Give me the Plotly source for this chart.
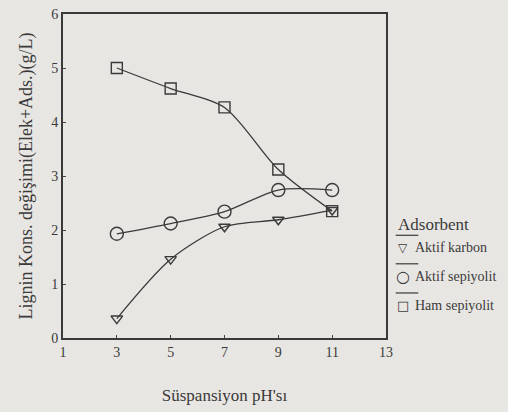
import plotly.graph_objects as go

ph = [3, 5, 7, 9, 11]
aktif_karbon = [0.36, 1.46, 2.06, 2.19, 2.37]
aktif_sepiyolit = [1.93, 2.12, 2.34, 2.74, 2.74]
ham_sepiyolit = [5.0, 4.62, 4.27, 3.12, 2.35]
x_ticks = [1, 3, 5, 7, 9, 11, 13]
y_ticks = [0, 1, 2, 3, 4, 5, 6]
legend_title = "Adsorbent"
series_names = ["Aktif karbon", "Aktif sepiyolit", "Ham sepiyolit"]
symbols = ["triangle-down-open", "circle-open", "square-open"]
glyphs = ["▽", "○", "□"]

ink = "#3a3a3a"
bg = "#e8e6e2"
font = "Liberation Serif, Times New Roman, serif"

fig = go.Figure()
for name, vals, sym, size in zip(series_names, [aktif_karbon, aktif_sepiyolit, ham_sepiyolit], symbols, [10, 13, 11]):
    fig.add_trace(go.Scatter(
        x=ph, y=vals, name=name, mode="lines+markers",
        line=dict(color=ink, width=1.3, shape="spline", smoothing=0.8),
        marker=dict(symbol=sym, size=size, color=ink, line=dict(width=1.4, color=ink)),
        showlegend=False,
    ))

fig.update_xaxes(range=[1, 13], tickvals=x_ticks, ticks="inside", ticklen=3,
                 showline=True, linecolor=ink, linewidth=1.8, mirror=True,
                 showgrid=False, zeroline=False,
                 tickfont=dict(family=font, size=14, color=ink),
                 title=dict(text="Süspansiyon pH'sı", font=dict(family=font, size=17, color=ink), standoff=30))
fig.update_yaxes(range=[0, 6], tickvals=y_ticks, ticks="inside", ticklen=3,
                 showline=True, linecolor=ink, linewidth=1.8, mirror=True,
                 showgrid=False, zeroline=False,
                 tickfont=dict(family=font, size=14, color=ink),
                 title=dict(text="Lignin Kons. değişimi(Elek+Ads.)(g/L)", font=dict(family=font, size=18, color=ink), standoff=14))

# legend built from annotations
fig.add_annotation(xref="paper", yref="paper", x=1.03, y=0.35, xanchor="left", yanchor="middle",
                   text=legend_title, showarrow=False, font=dict(family=font, size=17, color=ink))
leg_y = [0.278, 0.19, 0.10]
glyph_sizes = [12, 16, 13]
for yy, g, gs, name in zip(leg_y, glyphs, glyph_sizes, series_names):
    fig.add_shape(type="line", xref="paper", yref="paper", x0=1.03, x1=1.1, y0=yy + 0.039, y1=yy + 0.039,
                  line=dict(color=ink, width=1.2))
    fig.add_annotation(xref="paper", yref="paper", x=1.053, y=yy, xanchor="center", yanchor="middle",
                       text=g, showarrow=False, font=dict(family="DejaVu Sans", size=gs, color=ink))
    fig.add_annotation(xref="paper", yref="paper", x=1.083, y=yy, xanchor="left", yanchor="middle",
                       text=name, showarrow=False, font=dict(family=font, size=14, color=ink))

fig.update_layout(width=508, height=412, paper_bgcolor=bg, plot_bgcolor=bg,
                  margin=dict(l=63, r=122, t=7, b=74), showlegend=False)
fig.write_html("out.html")
